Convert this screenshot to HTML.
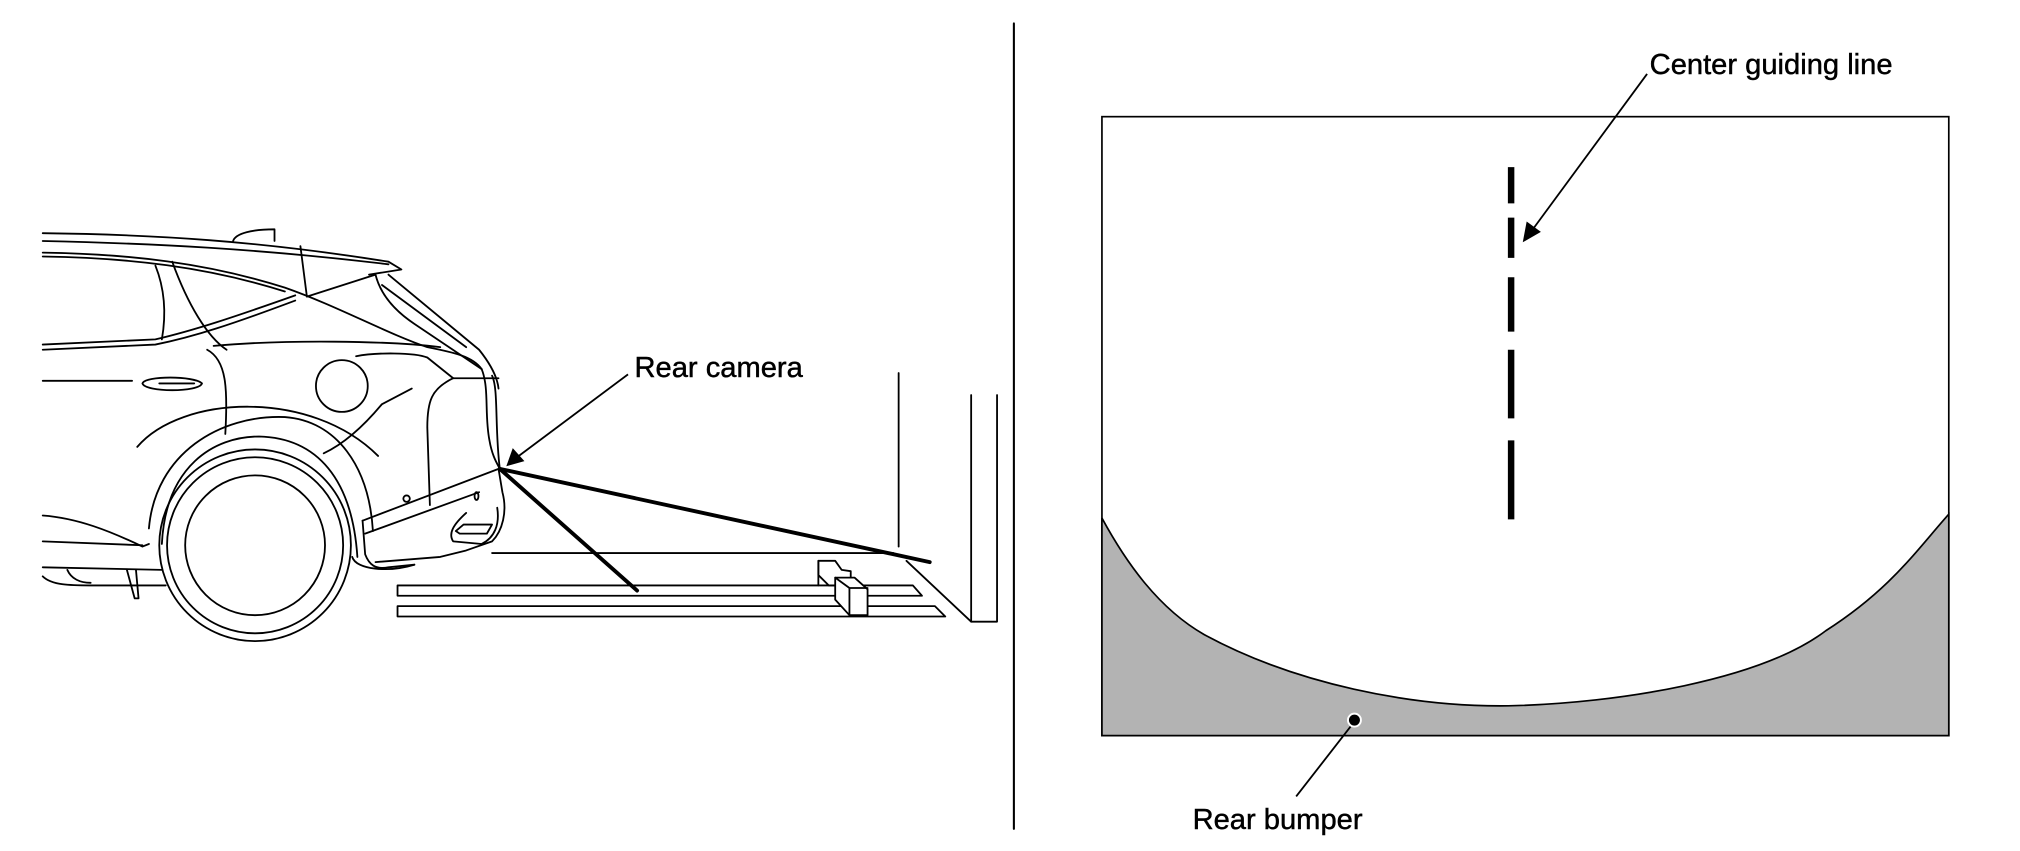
<!DOCTYPE html>
<html><head><meta charset="utf-8"><style>
html,body{margin:0;padding:0;background:#fff;}
svg{display:block;}
text{font-family:"Liberation Sans",sans-serif;font-size:22.5px;fill:#000;stroke:#000;stroke-width:0.35;}
</style></head><body>
<svg width="2020" height="851" viewBox="0 0 1560 657" xmlns="http://www.w3.org/2000/svg">
<g fill="none" stroke="#000" stroke-width="1.4" stroke-linejoin="round" stroke-linecap="round">
<line x1="783" y1="18" x2="783" y2="640" stroke-width="1.6"/>
<path d="M33,180 C120,181 200,186 300,202 L310,208 L285,212"/>
<path d="M33,186 C120,188 200,192 300,204"/>
<path d="M180,186 C182,180 195,177 212,177 L212,186"/>
<path d="M33,195 C100,196 160,203 220,222 C260,236 300,258 330,268 C350,272 365,275 372,285"/>
<path d="M33,198 C100,199 160,206 220,225"/>
<path d="M232,190 L237,229 L290,212"/>
<path d="M290,212 C294,228 305,240 320,250 L372,285"/>
<path d="M295,220 L360,268"/>
<path d="M300,212 L370,270 C378,280 384,290 385,300"/>
<path d="M33,266 L120,262 C150,255 180,245 228,228"/>
<path d="M33,270 L120,266 C150,260 180,250 228,232"/>
<path d="M120,205 C128,225 128,245 125,262"/>
<path d="M133,202 C145,235 160,260 175,270"/>
<path d="M165,267 C220,262 300,263 340,268"/>
<path d="M160,270 C175,278 176,300 174,335"/>
<path d="M33,294 L102,294"/>
<path d="M110,296 C112,290 150,290 156,296 C154,303 112,303 110,296 Z"/>
<path d="M123,296 L150,296"/>
<path d="M275,275 C290,272 320,272 330,276 L350,292 L385,292"/>
<path d="M318,300 L295,312 C280,330 265,343 250,350"/>
<circle cx="264" cy="298" r="20"/>
<path d="M350,292 C333,300 330,310 330,330 L332,390"/>
<path d="M372,285 C378,300 374,320 378,340 C380,352 384,358 386,362"/>
<path d="M380,290 C385,300 382,330 386,362"/>
<path d="M106,345 C140,305 240,300 292,352"/>
<path d="M115,408 C120,350 170,320 220,322 C260,325 285,360 288,410"/>
<path d="M125,420 C128,360 165,337 200,337 C245,338 272,370 276,430"/>
<circle cx="197" cy="421" r="74"/>
<circle cx="197" cy="421" r="68"/>
<circle cx="197" cy="421" r="54"/>
<path d="M33,398 C60,400 85,410 110,422 L115,420"/>
<path d="M33,418 L110,421"/>
<path d="M33,438 L125,440"/>
<path d="M33,445 C40,452 55,452 70,452 L128,452"/>
<path d="M52,440 C55,447 62,450 70,450"/>
<path d="M98,440 L104,462 L107,462 L105,440"/>
<path d="M280,402 L385,362 L388,380 C392,395 388,410 380,418 L360,425 L340,430 L290,434"/>
<path d="M282,412 L370,380"/>
<path d="M280,402 L282,428 C285,436 290,440 300,438 L320,436"/>
<path d="M272,430 C275,440 300,442 320,436"/>
<path d="M360,396 C350,405 346,412 350,418 L372,420 C382,415 386,405 384,392"/>
<path d="M352,410 L358,405 L380,405 L376,412 L355,412 Z"/>
<circle cx="314" cy="385" r="2.5"/>
<ellipse cx="368" cy="383" rx="1.5" ry="3"/>
<path d="M380,427 L690,427"/>
<path d="M307,452 L705,452 L712,460 L307,460 Z"/>
<path d="M307,468 L722,468 L730,476 L307,476 Z"/>
<path d="M632,433 L645,433 L650,440 L657,441 L657,452 L640,452 L632,444 Z" fill="#fff"/>
<path d="M645,446 L660,446 L670,455 L670,475 L656,475 L645,463 Z" fill="#fff"/>
<path d="M632,433 L632,452 M645,446 L656,454 L656,475 M656,454 L670,454"/>
<path d="M694,288 L694,422"/>
<path d="M750,305 L750,480 L770,480 L770,305"/>
<path d="M700,433 L750,480"/>
</g>
<g stroke="#000" stroke-width="3" stroke-linecap="round">
<line x1="386" y1="362" x2="718" y2="434"/>
<line x1="386" y1="362" x2="492" y2="456"/>
</g>
<line x1="485" y1="289" x2="398" y2="354" stroke="#000" stroke-width="1.4"/>
<polygon points="391,360 396,346 405,356" fill="#000"/>
<text x="490" y="291">Rear camera</text>

<rect x="851" y="90" width="654" height="478" fill="#fff" stroke="#000" stroke-width="1.3"/>
<path d="M851,400 C870,435 895,470 930,490 C1000,528 1090,546 1165,545 C1250,543 1360,525 1410,487 C1460,455 1480,425 1505,397 L1505,568 L851,568 Z" fill="#b3b3b3" stroke="#000" stroke-width="1.3"/>
<g stroke="#000" stroke-width="5">
<line x1="1167" y1="129" x2="1167" y2="157"/>
<line x1="1167" y1="168" x2="1167" y2="199"/>
<line x1="1167" y1="214" x2="1167" y2="256"/>
<line x1="1167" y1="270" x2="1167" y2="323"/>
<line x1="1167" y1="340" x2="1167" y2="401"/>
</g>
<line x1="1272" y1="57" x2="1183" y2="178" stroke="#000" stroke-width="1.4"/>
<polygon points="1176,187 1179,171 1190,179" fill="#000"/>
<text x="1274" y="57">Center guiding line</text>
<circle cx="1046" cy="556" r="5" fill="#000" stroke="#fff" stroke-width="1.5"/>
<line x1="1043" y1="561" x2="1001" y2="615" stroke="#000" stroke-width="1.4"/>
<text x="921" y="640">Rear bumper</text>
</svg>
</body></html>
